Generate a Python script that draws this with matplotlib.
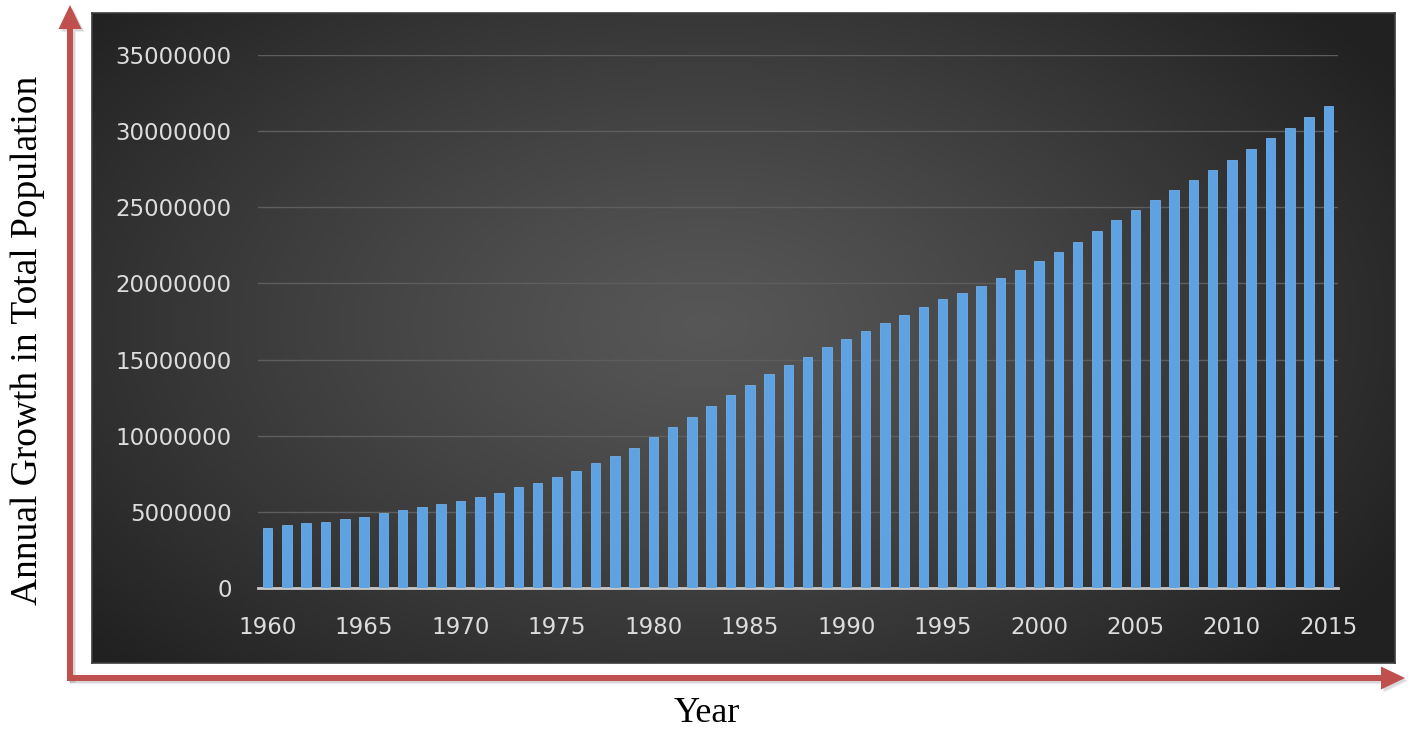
import numpy as np
import matplotlib
matplotlib.use("Agg")
import matplotlib.pyplot as plt
from matplotlib.patches import FancyArrow

# data
years = list(range(1960, 2016))
growth = [
    3960000, 4140000, 4250000, 4360000, 4510000, 4660000, 4920000, 5100000,
    5300000, 5520000, 5730000, 5950000, 6260000, 6610000, 6870000, 7290000,
    7700000, 8190000, 8670000, 9170000, 9940000, 10570000, 11250000, 11930000,
    12650000, 13350000, 14050000, 14620000, 15190000, 15850000, 16370000, 16900000,
    17400000, 17910000, 18450000, 18950000, 19380000, 19860000, 20350000, 20880000,
    21440000, 22080000, 22730000, 23430000, 24140000, 24790000, 25450000, 26110000,
    26760000, 27460000, 28120000, 28850000, 29550000, 30230000, 30910000, 31630000,
]
y_ticks = [0, 5000000, 10000000, 15000000, 20000000, 25000000, 30000000, 35000000]
x_label_years = [1960, 1965, 1970, 1975, 1980, 1985, 1990, 1995, 2000, 2005, 2010, 2015]

W, H = 1408, 731
fig = plt.figure(figsize=(W / 100, H / 100), dpi=100)
fig.patch.set_facecolor("white")

# dark panel with radial gradient
px0, px1, py0, py1 = 92, 1395, 13, 663
bg = fig.add_axes([px0 / W, 1 - py1 / H, (px1 - px0) / W, (py1 - py0) / H], zorder=0)
gx, gy = np.meshgrid(np.linspace(0, 1, 400), np.linspace(0, 1, 200))
r = np.sqrt(((gx - 0.47) / 0.62) ** 2 + ((gy - 0.48) / 0.75) ** 2)
r = np.clip(r, 0, 1)
lo, hi = 0.13, 0.34
shade = hi - (hi - lo) * r ** 1.2
img = np.dstack([shade, shade, shade])
bg.imshow(img, aspect="auto", extent=[0, 1, 0, 1])
bg.set_xlim(0, 1)
bg.set_ylim(0, 1)
for s in bg.spines.values():
    s.set_color("#3c3c3c")
    s.set_linewidth(1.2)
bg.set_xticks([])
bg.set_yticks([])

# main chart
ax_l, ax_r, ax_t, ax_b = 258, 1338, 55, 588
ax = fig.add_axes([ax_l / W, 1 - ax_b / H, (ax_r - ax_l) / W, (ax_b - ax_t) / H], zorder=2)
ax.patch.set_alpha(0)

idx = np.arange(len(years))
ax.bar(idx, growth, width=0.5, color="#5fa2e2", edgecolor="#70aee8", linewidth=0.6, zorder=3)

ax.set_xlim(-0.5, len(years) - 0.5)
ax.set_ylim(0, 35000000)
ax.set_yticks(y_ticks)
ax.set_yticklabels([str(v) for v in y_ticks])
ax.set_xticks([years.index(y) for y in x_label_years])
ax.set_xticklabels([str(y) for y in x_label_years])
ax.yaxis.grid(True, color="#5e5e5e", linewidth=1.0, zorder=0)
ax.set_axisbelow(True)
for s in ["top", "right", "left"]:
    ax.spines[s].set_visible(False)
ax.spines["bottom"].set_color("#c8c8c8")
ax.spines["bottom"].set_linewidth(2)
ax.tick_params(axis="both", length=0, colors="#dcdcdc", labelsize=16.5)
ax.tick_params(axis="y", pad=19)
ax.tick_params(axis="x", pad=20)

# red arrows and axis titles
ov = fig.add_axes([0, 0, 1, 1], zorder=3)
ov.set_xlim(0, W)
ov.set_ylim(H, 0)
ov.axis("off")
red = "#c0504d"
for dx in (2, 3):
    ov.add_patch(FancyArrow(70 + dx, 680 + dx, 0, -675, width=6, head_width=23, head_length=24,
                            length_includes_head=True, color="#000000", alpha=0.08, lw=0))
    ov.add_patch(FancyArrow(67 + dx, 678 + dx, 1338, 0, width=6, head_width=23, head_length=24,
                            length_includes_head=True, color="#000000", alpha=0.08, lw=0))
ov.add_patch(FancyArrow(70, 680, 0, -675, width=6, head_width=23, head_length=24,
                        length_includes_head=True, color=red, lw=0))
ov.add_patch(FancyArrow(67, 678, 1338, 0, width=6, head_width=23, head_length=24,
                        length_includes_head=True, color=red, lw=0))

fig.text(28 / W, 1 - 340 / H, "Annual Growth in Total Population", rotation=90,
         ha="center", va="center", fontsize=27, family="Liberation Serif", color="black")
fig.text(707 / W, 1 - 714 / H, "Year", ha="center", va="center",
         fontsize=26, family="Liberation Serif", color="black")

fig.savefig("out.png", dpi=100)
